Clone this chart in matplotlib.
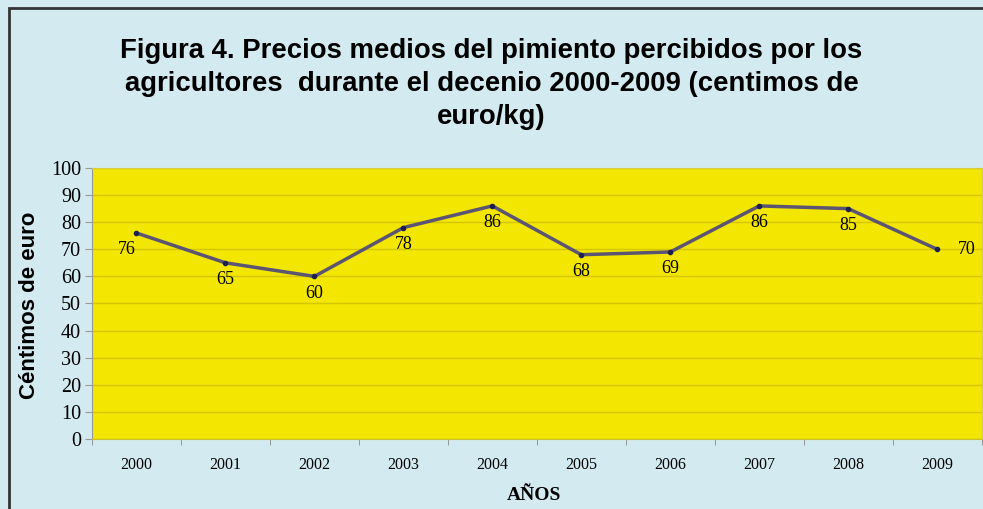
import numpy as np
import matplotlib
matplotlib.use('Agg')
import matplotlib.pyplot as plt
from matplotlib.patches import Rectangle

# datos: precio medio del pimiento (céntimos de euro/kg)
anios = ['2000', '2001', '2002', '2003', '2004', '2005', '2006', '2007', '2008', '2009']
precios = [76, 65, 60, 78, 86, 68, 69, 86, 85, 70]

fondo = '#d3ebf0'
amarillo = '#f3e600'

fig = plt.figure(figsize=(9.83, 5.09), dpi=100)
fig.patch.set_facecolor(fondo)
ax = fig.add_axes([0.0936, 0.1375, 0.905, 0.5325])
ax.set_facecolor(amarillo)

x = np.arange(len(anios))
ax.plot(x, precios, color='#5b5472', linewidth=2.5, marker='o', markersize=3,
        markerfacecolor='#1c2050', markeredgecolor='#1c2050', zorder=3)

# etiquetas de datos (la mayoria debajo del punto)
for i, v in enumerate(precios):
    if i == len(precios) - 1:
        off = (21, 0)
    elif i == 0:
        off = (-7, -12)
    else:
        off = (0, -12)
    ax.annotate(str(v), (i, v), xytext=off, textcoords='offset points',
                ha='center', va='center', fontsize=13, family='Liberation Serif')

ax.set_xlim(-0.5, len(anios) - 0.5)
ax.set_ylim(0, 100)
ax.set_yticks(range(0, 101, 10))
ax.set_xticks(x)
ax.set_xticklabels(anios, family='Liberation Serif', fontsize=11.5)
ax.set_xticks(np.arange(-0.5, len(anios), 1), minor=True)
ax.tick_params(axis='x', which='major', length=0, pad=13)
ax.tick_params(axis='x', which='minor', length=4, color='#888888')
ax.tick_params(axis='y', length=5, color='#999999', pad=3)
for lab in ax.get_yticklabels():
    lab.set_family('Liberation Serif')
    lab.set_fontsize(14.5)

ax.grid(axis='y', color='#d4c600', linewidth=1)
ax.set_axisbelow(True)
for s in ['top', 'right']:
    ax.spines[s].set_color('#d8cc40')
ax.spines['left'].set_color('#999999')
ax.spines['bottom'].set_color('#c8be30')

ax.set_ylabel('Céntimos de euro', family='Liberation Sans', fontweight='bold',
              fontsize=16, va='center')
ax.yaxis.set_label_coords(-0.0705, 0.495)
ax.set_xlabel('AÑOS', family='Liberation Serif', fontweight='bold', fontsize=14,
              va='center')
ax.xaxis.set_label_coords(0.497, -0.207)

fig.text(0.5, 0.835, 'Figura 4. Precios medios del pimiento percibidos por los\n'
         'agricultores  durante el decenio 2000-2009 (centimos de\neuro/kg)',
         ha='center', va='center', family='Liberation Sans', fontweight='bold',
         fontsize=19.8, linespacing=1.37)

# marco del grafico (sale por la derecha y por abajo)
fig.patches.append(Rectangle((9, -600), 1100, 509 - 8 + 600, transform=None,
                             fill=False, edgecolor='#333333', linewidth=2))

fig.savefig('out.png', dpi=100, facecolor=fondo)
